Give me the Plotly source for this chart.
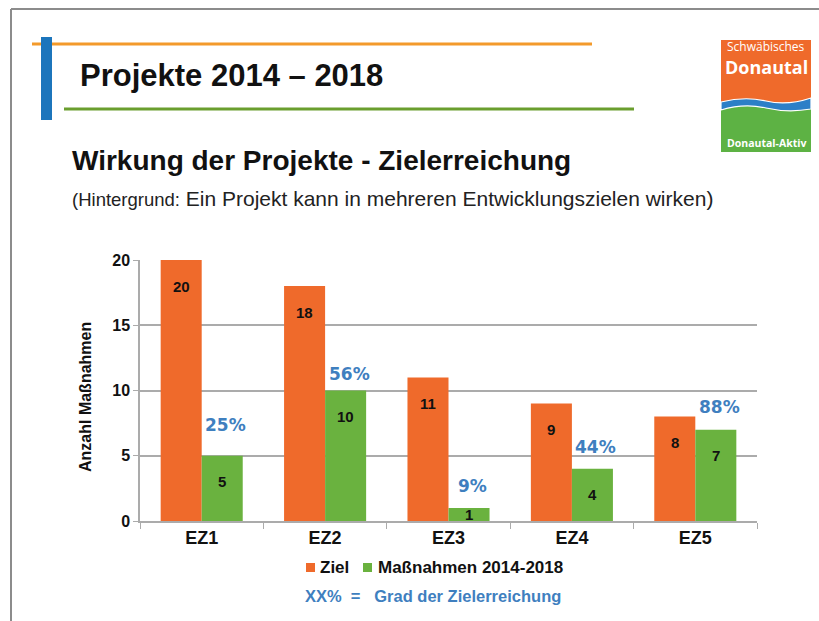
import plotly.graph_objects as go

# ---------------- data ----------------
categories = ["EZ1", "EZ2", "EZ3", "EZ4", "EZ5"]
ziel = [20, 18, 11, 9, 8]
massnahmen = [5, 10, 1, 4, 7]
y_ticks = [0, 5, 10, 15, 20]

series_ziel_name = "Ziel"
series_mass_name = "Maßnahmen 2014-2018"

# ---------------- style ----------------
ORANGE = "#EF6A2B"
GREEN = "#6AB23F"
BLUE_TXT = "#3F7FBF"
GRID = "#ABABAB"
FONT = "Liberation Sans, Arial, sans-serif"
pct_shift_px = [31, 17, 22, 22, 23]   # vertical offset of % labels above green bars

W, H = 819, 621
L, R, T, B = 140, 757, 260, 521


def px(x):
    return (x - L) / (R - L)


def py(y):
    return (B - y) / (B - T)


fig = go.Figure()
fig.add_trace(go.Bar(x=categories, y=ziel, name=series_ziel_name,
                     marker=dict(color=ORANGE, line=dict(width=0))))
fig.add_trace(go.Bar(x=categories, y=massnahmen, name=series_mass_name,
                     marker=dict(color=GREEN, line=dict(width=0))))

annotations = []
# value labels inside bars (near the top)
for i, c in enumerate(categories):
    for val, shift in ((ziel[i], -20.6), (massnahmen[i], 20.6)):
        ylab = val - 2.0 if val > 3 else val / 2
        annotations.append(dict(x=c, y=ylab, xref="x", yref="y", text=f"<b>{val}</b>",
                                showarrow=False, xshift=shift,
                                font=dict(family=FONT, size=15, color="#111111")))
    pct = round(massnahmen[i] / ziel[i] * 100)
    annotations.append(dict(x=c, y=massnahmen[i], xref="x", yref="y", text=f"<b>{pct}%</b>",
                            showarrow=False, xshift=24, yshift=pct_shift_px[i],
                            yanchor="middle",
                            font=dict(family="DejaVu Sans, sans-serif", size=17, color=BLUE_TXT)))

# slide text
annotations += [
    dict(x=px(78), y=py(75), xref="paper", yref="paper", xanchor="left", yanchor="middle",
         text="<b>Projekte 2014 – 2018</b>", showarrow=False,
         font=dict(family=FONT, size=31, color="#111111")),
    dict(x=px(70), y=py(160), xref="paper", yref="paper", xanchor="left", yanchor="middle",
         text="<b>Wirkung der Projekte - Zielerreichung</b>", showarrow=False,
         font=dict(family=FONT, size=28, color="#111111")),
    dict(x=px(70), y=py(198), xref="paper", yref="paper", xanchor="left", yanchor="middle",
         text="<span style='font-size:18.5px'>(Hintergrund:</span> Ein Projekt kann in mehreren Entwicklungszielen wirken)",
         showarrow=False, font=dict(family=FONT, size=21, color="#222222")),
    dict(x=px(85), y=py(397), xref="paper", yref="paper", xanchor="center", yanchor="middle",
         text="<b>Anzahl Maßnahmen</b>", textangle=-90, showarrow=False,
         font=dict(family=FONT, size=16, color="#111111")),
    # legend
    dict(x=px(318), y=py(567), xref="paper", yref="paper", xanchor="left", yanchor="middle",
         text=f"<b>{series_ziel_name}</b>", showarrow=False,
         font=dict(family=FONT, size=17, color="#111111")),
    dict(x=px(376), y=py(567), xref="paper", yref="paper", xanchor="left", yanchor="middle",
         text=f"<b>{series_mass_name}</b>", showarrow=False,
         font=dict(family=FONT, size=17, color="#111111")),
    dict(x=px(303), y=py(596), xref="paper", yref="paper", xanchor="left", yanchor="middle",
         text="<b>XX%  =   Grad der Zielerreichung</b>", showarrow=False,
         font=dict(family=FONT, size=16.5, color=BLUE_TXT)),
    # logo text
    dict(x=px(766), y=py(46.5), xref="paper", yref="paper", xanchor="center", yanchor="middle",
         text="Schwäbisches", showarrow=False, borderpad=0,
         font=dict(family="Open Sans, sans-serif", size=12, color="white")),
    dict(x=px(766), y=py(66.5), xref="paper", yref="paper", xanchor="center", yanchor="middle",
         text="<b>Donautal</b>", showarrow=False, borderpad=0,
         font=dict(family="Open Sans, sans-serif", size=18, color="white")),
    dict(x=px(766), y=py(143), xref="paper", yref="paper", xanchor="center", yanchor="middle",
         text="<b>Donautal-Aktiv</b>", showarrow=False, borderpad=0,
         font=dict(family="Open Sans, sans-serif", size=10.5, color="white")),
]

shapes = [
    # slide frame
    dict(type="line", xref="paper", yref="paper", x0=px(11), x1=px(11), y0=py(9), y1=py(621),
         line=dict(color="#8C8C8C", width=2)),
    dict(type="line", xref="paper", yref="paper", x0=px(11), x1=px(819), y0=py(9), y1=py(9),
         line=dict(color="#8C8C8C", width=2)),
    # title decorations
    dict(type="line", xref="paper", yref="paper", x0=px(32), x1=px(592), y0=py(44), y1=py(44),
         line=dict(color="#F39A2B", width=3)),
    dict(type="rect", xref="paper", yref="paper", x0=px(41), x1=px(52), y0=py(37), y1=py(120),
         fillcolor="#1C75BC", line=dict(width=0)),
    dict(type="line", xref="paper", yref="paper", x0=px(64), x1=px(634), y0=py(109), y1=py(109),
         line=dict(color="#6A9E2E", width=3)),
    # logo
    dict(type="rect", xref="paper", yref="paper", x0=px(721), x1=px(811), y0=py(40), y1=py(106),
         fillcolor="#EF6A2B", line=dict(width=0)),
    dict(type="rect", xref="paper", yref="paper", x0=px(721), x1=px(811), y0=py(106), y1=py(152),
         fillcolor="#5DB244", line=dict(width=0)),
    dict(type="path", xref="paper", yref="paper",
         path=(f"M {px(721)},{py(102)} Q {px(745)},{py(96)} {px(766)},{py(101)} "
               f"T {px(811)},{py(98)} L {px(811)},{py(109)} Q {px(788)},{py(113)} {px(766)},{py(108)} "
               f"T {px(721)},{py(110)} Z"),
         fillcolor="#2C7FC7", line=dict(color="white", width=1.2)),
    # legend keys
    dict(type="rect", xref="paper", yref="paper", x0=px(306), x1=px(315), y0=py(563), y1=py(572),
         fillcolor=ORANGE, line=dict(width=0)),
    dict(type="rect", xref="paper", yref="paper", x0=px(363), x1=px(372), y0=py(563), y1=py(572),
         fillcolor=GREEN, line=dict(width=0)),
]

fig.update_layout(
    width=W, height=H,
    margin=dict(l=L, r=W - R, t=T, b=H - B, pad=0),
    paper_bgcolor="white", plot_bgcolor="white",
    barmode="group", bargap=0.335, bargroupgap=0,
    showlegend=False,
    annotations=annotations, shapes=shapes,
    font=dict(family=FONT, color="#111111"),
)
fig.update_xaxes(showline=True, linecolor=GRID, linewidth=1.5,
                 ticks="outside", tickson="boundaries", ticklen=6, tickcolor=GRID,
                 tickfont=dict(family=FONT, size=18, color="#111111", weight="bold"),
                 showgrid=False, fixedrange=True)
fig.update_yaxes(range=[0, 20], tickvals=y_ticks, showline=True, linecolor=GRID, linewidth=1.5,
                 ticks="outside", ticklen=5, tickcolor=GRID,
                 showgrid=True, gridcolor=GRID, gridwidth=1.5, zeroline=False,
                 tickfont=dict(family=FONT, size=16, color="#111111", weight="bold"),
                 fixedrange=True)

fig.write_html("out.html", config={"displayModeBar": False},
               post_script="document.body.style.margin='0';document.documentElement.style.overflow='hidden';")
